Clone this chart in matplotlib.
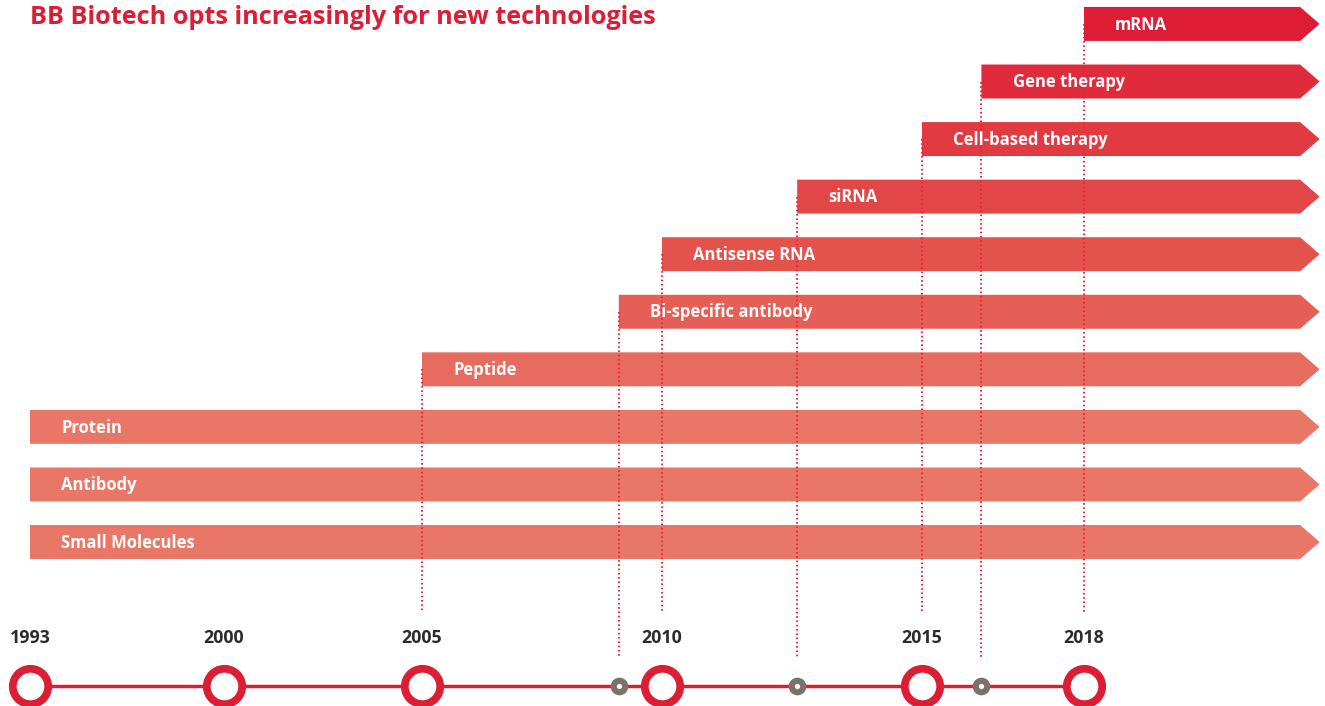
import numpy as np
import matplotlib
matplotlib.use("Agg")
import matplotlib.pyplot as plt
from matplotlib.patches import Polygon

# technologies, bottom row first, with the year BB Biotech started investing
technologies = ['Small Molecules', 'Antibody', 'Protein', 'Peptide', 'Bi-specific antibody',
                'Antisense RNA', 'siRNA', 'Cell-based therapy', 'Gene therapy', 'mRNA']
start_years = [1993, 1993, 1993, 2005, 2009.1, 2010, 2012.6, 2015, 2016.1, 2018]
bar_colors = ['#E97767', '#E97767', '#E97767', '#E86B5F', '#E65F56', '#E4524C',
              '#E34646', '#E13A41', '#DF2B3B', '#DD1C36']

milestones = [1993, 2000, 2005, 2010, 2015, 2018]
minor_events = [2009.1, 2012.6, 2016.1]

# piecewise year -> position scale (the timeline is not evenly spaced)
scale_years = [1991.92, 1993, 2000, 2005, 2010, 2015, 2018, 2022.46]
scale_pos = [0, 30, 224, 422, 662, 922, 1084, 1325]

RED = '#DC1E35'
GREY = '#7A736B'
arrow_end = 2022.0
tip_len = 0.36
half_h = 0.295
timeline_y = -2.5
label_y = -1.67

plt.rcParams['font.family'] = ['Open Sans', 'DejaVu Sans']

fig = plt.figure(figsize=(13.25, 7.06), dpi=100)
ax = fig.add_axes([0, 0, 1, 1])


def fwd(x):
    return np.interp(x, scale_years, scale_pos)


def inv(x):
    return np.interp(x, scale_pos, scale_years)


ax.set_xscale('function', functions=(fwd, inv))
ax.set_xlim(scale_years[0], scale_years[-1])
ax.set_ylim(-2.849, 9.416)
ax.axis('off')

# dotted guide lines from bar start down to the timeline
for i, (name, yr) in enumerate(zip(technologies, start_years)):
    if yr == 1993:
        continue
    end = label_y + 0.45 if yr in milestones else timeline_y + 0.485
    ax.plot([yr, yr], [i, end], color='#E8203E', lw=1.4,
            linestyle=(0, (0.8, 1.4)), zorder=3)

# arrows
for i, (name, yr, c) in enumerate(zip(technologies, start_years, bar_colors)):
    verts = [(yr, i - half_h), (arrow_end, i - half_h), (arrow_end + tip_len, i),
             (arrow_end, i + half_h), (yr, i + half_h)]
    ax.add_patch(Polygon(verts, closed=True, facecolor=c, edgecolor='none', zorder=2))
    ax.annotate(name, (yr, i), xytext=(22.5, -0.5), textcoords='offset points',
                ha='left', va='center', color='white', fontsize=12,
                fontweight='bold', zorder=4)

# timeline
ax.plot([milestones[0], milestones[-1]], [timeline_y, timeline_y], color=RED, lw=2.5, zorder=3)
ax.plot(milestones, [timeline_y] * len(milestones), 'o', ms=25.5, mfc='white',
        mec=RED, mew=5.6, zorder=4)
ax.plot(minor_events, [timeline_y] * len(minor_events), 'o', ms=8.3, mfc='white',
        mec=GREY, mew=4.4, zorder=4)
for yr in milestones:
    ax.text(yr, label_y, str(yr), ha='center', va='center', fontsize=12.8,
            fontweight='bold', color='#2B2B2B')

fig.text(30 / 1325, 1 - 18 / 706, 'BB Biotech opts increasingly for new technologies',
         ha='left', va='center', fontsize=18.2, fontweight='bold', color=RED)

fig.savefig('out.png', dpi=100)
